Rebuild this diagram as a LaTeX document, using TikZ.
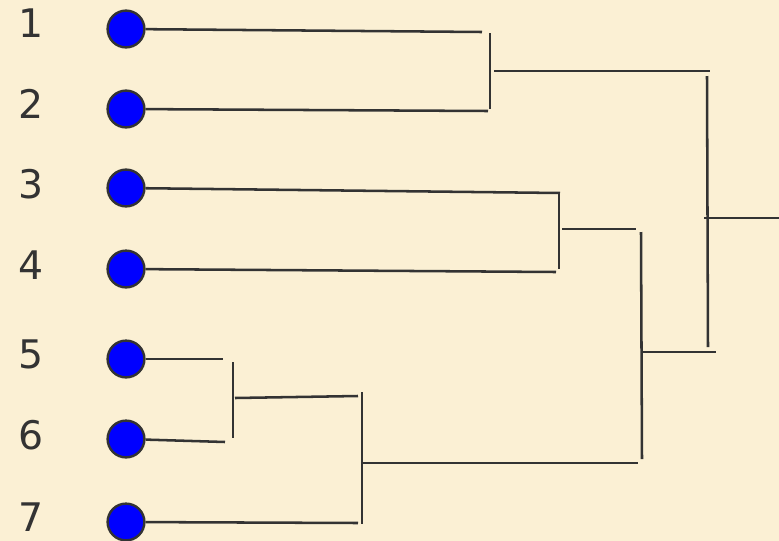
\documentclass[tikz,border=0pt]{standalone}
\usepackage{fontspec}
\usepackage{xcolor}
\setmainfont{DejaVu Sans}
\usetikzlibrary{positioning}
\definecolor{parchment}{HTML}{FBF0D4}
\definecolor{inkgray}{HTML}{333333}

\begin{document}
\begin{tikzpicture}[
        x=0.025cm, y=-0.025cm,
        % Global Styles
        leaf/.style={circle, draw=inkgray, line width=1.7pt, fill=blue, minimum size=0.92cm, inner sep=0pt},
        leaflabel/.style={text=inkgray, font=\fontsize{28}{30}\selectfont, inner sep=0pt},
        branch/.style={draw=inkgray, line width=1.8pt}
    ]

    % --- Canvas ---
    \fill[parchment] (0,0) rectangle (779,541);
    \useasboundingbox (0,0) rectangle (779,541);

    % --- Junction points ---
    \coordinate (e1) at (482,32);
    \coordinate (e2) at (488,111);
    \coordinate (e3) at (560,193);
    \coordinate (e4) at (556,272);
    \coordinate (e5) at (223,359);
    \coordinate (e6) at (225,442);
    \coordinate (e7) at (358,523);

    \coordinate (v12t) at (490,33);   \coordinate (v12b) at (490,109);
    \coordinate (h12a) at (494,71);   \coordinate (h12b) at (710,71);
    \coordinate (v34t) at (559,193);  \coordinate (v34b) at (559,269);
    \coordinate (h34a) at (562,229);  \coordinate (h34b) at (636,229);
    \coordinate (v56t) at (233,362);  \coordinate (v56b) at (233,438);
    \coordinate (h56a) at (235,398);  \coordinate (h56b) at (358,396);
    \coordinate (v57t) at (362,392);  \coordinate (v57b) at (362,524);
    \coordinate (h57a) at (363,463);  \coordinate (h57b) at (638,463);
    \coordinate (v37t) at (641,232);  \coordinate (v37b) at (642,459);
    \coordinate (h37a) at (642,352);  \coordinate (h37b) at (716,352);
    \coordinate (vRt) at (707,76);    \coordinate (vRb) at (708,347);
    \coordinate (rootA) at (704,218); \coordinate (rootB) at (779,218);

    % --- Leaves ---
    \node (l1) [leaf] at (126,29) {};
    \node (l2) [leaf] at (126,109) {};
    \node (l3) [leaf] at (126,188) {};
    \node (l4) [leaf] at (126,269) {};
    \node (l5) [leaf] at (126,359) {};
    \node (l6) [leaf] at (126,439) {};
    \node (l7) [leaf] at (126,522) {};

    % --- Labels ---
    \node (n1) [leaflabel] at (31,23) {1};
    \node (n2) [leaflabel] at (31,104) {2};
    \node (n3) [leaflabel] at (31,184) {3};
    \node (n4) [leaflabel] at (31,265) {4};
    \node (n5) [leaflabel] at (31,354) {5};
    \node (n6) [leaflabel] at (31,435) {6};
    \node (n7) [leaflabel] at (31,517) {7};

    % --- Leaf branches ---
    \draw [branch] (l1) -- (e1);
    \draw [branch] (l2) -- (e2);
    \draw [branch] (l3) -- (e3);
    \draw [branch] (l4) -- (e4);
    \draw [branch] (l5) -- (e5);
    \draw [branch] (l6) -- (e6);
    \draw [branch] (l7) -- (e7);

    % --- Merges ---
    \draw [branch] (v12t) -- (v12b);
    \draw [branch] (h12a) -- (h12b);
    \draw [branch] (v34t) -- (v34b);
    \draw [branch] (h34a) -- (h34b);
    \draw [branch] (v56t) -- (v56b);
    \draw [branch] (h56a) -- (h56b);
    \draw [branch] (v57t) -- (v57b);
    \draw [branch] (h57a) -- (h57b);
    \draw [branch] (v37t) -- (v37b);
    \draw [branch] (h37a) -- (h37b);
    \draw [branch] (vRt) -- (vRb);
    \draw [branch] (rootA) -- (rootB);

\end{tikzpicture}
\end{document}
